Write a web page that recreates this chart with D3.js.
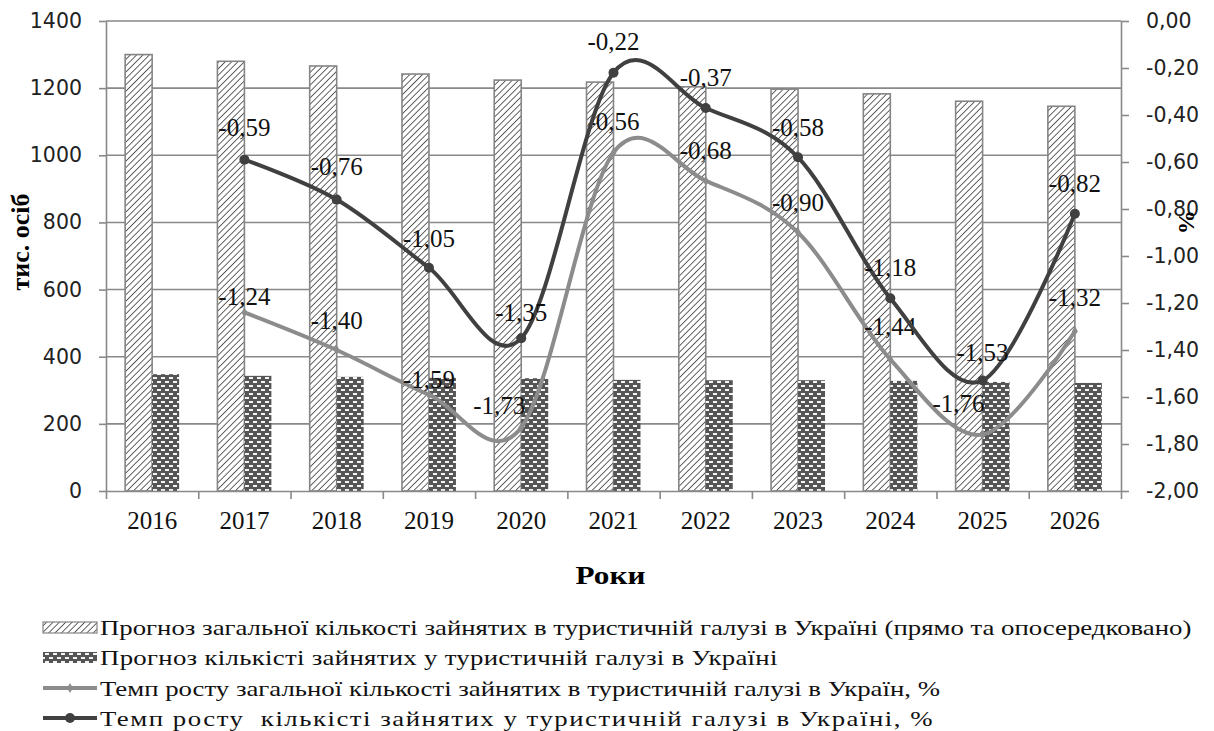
<!DOCTYPE html>
<html>
<head>
<meta charset="utf-8">
<script src="https://cdn.jsdelivr.net/npm/d3@7"></script>
<style>
  body { margin: 0; background: #fff; }
  svg { display: block; }
</style>
</head>
<body>
<div id="chart"></div>
<script>
// дані
const years = ["2016", "2017", "2018", "2019", "2020", "2021", "2022", "2023", "2024", "2025", "2026"];
const totalEmployed = [1300, 1280, 1266, 1242, 1224, 1218, 1204, 1197, 1183, 1161, 1146];
const directEmployed = [348, 343, 340, 337, 336, 331, 330, 330, 328, 325, 322];
const totalGrowth = [null, -1.24, -1.40, -1.59, -1.73, -0.56, -0.68, -0.90, -1.44, -1.76, -1.32];
const directGrowth = [null, -0.59, -0.76, -1.05, -1.35, -0.22, -0.37, -0.58, -1.18, -1.53, -0.82];
const leftTicks = [0, 200, 400, 600, 800, 1000, 1200, 1400];
const rightTicks = [0, -0.2, -0.4, -0.6, -0.8, -1.0, -1.2, -1.4, -1.6, -1.8, -2.0];
const legendLabels = [
    "Прогноз загальної кількості зайнятих в туристичній галузі в Україні (прямо та опосередковано)",
    "Прогноз кількісті зайнятих у туристичній галузі в Україні",
    "Темп росту загальної кількості зайнятих в туристичній галузі в Україн, %",
    "Темп росту  кількісті зайнятих у туристичній галузі в Україні, %"
];
// зсув підписів (стиль, у пікселях)
const totalLabelShift = [null, [0, -16], [0, -30], [0, -15], [-22, -22], [0, -31], [0, -31], [0, -30], [0, -33], [-24, -31], [0, -34]];
const directLabelShift = [null, [0, -32], [0, -33], [0, -30], [0, -26], [0, -31], [0, -31], [0, -30], [0, -31], [0, -28], [0, -30]];
const legendLetterSpacing = [0, 0.25, 0, 1.25];

const locale = d3.formatLocale({ decimal: ",", thousands: "", grouping: [3], currency: ["", ""], minus: "-" });
const fmt2 = locale.format(".2f");

const W = 1214, H = 731;
const mLeft = 106, mRight = 1121, mTop = 21, mBottom = 491;
const gridColor = "#898989";
const serif = "'Liberation Serif', 'Times New Roman', serif";
const sans = "'DejaVu Sans', sans-serif";

const svg = d3.select("#chart").append("svg")
    .attr("width", W).attr("height", H)
    .style("font-family", serif);

// візерунки
const defs = svg.append("defs");
const hatch = defs.append("pattern")
    .attr("id", "hatch").attr("patternUnits", "userSpaceOnUse")
    .attr("width", 4.5).attr("height", 4.5)
    .attr("patternTransform", "rotate(45)");
hatch.append("rect").attr("width", 4.5).attr("height", 4.5).attr("fill", "#fff");
hatch.append("line").attr("x1", 0).attr("y1", 0).attr("x2", 0).attr("y2", 4.5)
    .attr("stroke", "#3c3c3c").attr("stroke-width", 1.6);

const brick = defs.append("pattern")
    .attr("id", "brick").attr("patternUnits", "userSpaceOnUse")
    .attr("width", 8).attr("height", 8);
brick.append("rect").attr("width", 8).attr("height", 8).attr("fill", "#555555");
brick.append("rect").attr("x", 1).attr("y", 1).attr("width", 4).attr("height", 2).attr("fill", "#f4f4f4");
brick.append("rect").attr("x", 5).attr("y", 5).attr("width", 4).attr("height", 2).attr("fill", "#f4f4f4");
brick.append("rect").attr("x", -3).attr("y", 5).attr("width", 4).attr("height", 2).attr("fill", "#f4f4f4");

// шкали
const x = d3.scaleBand().domain(years).range([mLeft, mRight]).paddingInner(0.415).paddingOuter(0.2075);
const xCenter = d3.scaleBand().domain(years).range([mLeft, mRight]).padding(0);
const xSub = d3.scaleBand().domain(["total", "direct"]).range([0, x.bandwidth()]);
const xEdge = d3.scaleLinear().domain([0, years.length]).range([mLeft, mRight]);
const yL = d3.scaleLinear().domain([0, 1400]).range([mBottom, mTop]);
const yR = d3.scaleLinear().domain([-2, 0]).range([mBottom, mTop]);

// сітка
svg.append("g").selectAll("line")
    .data(leftTicks.slice(1))
    .join("line")
    .attr("x1", mLeft).attr("x2", mRight)
    .attr("y1", d => yL(d)).attr("y2", d => yL(d))
    .attr("stroke", gridColor).attr("stroke-width", 1.6);

// стовпці
const rows = years.map((yr, i) => ({ year: yr, total: totalEmployed[i], direct: directEmployed[i] }));
svg.append("g").selectAll("rect")
    .data(rows)
    .join("rect")
    .attr("x", d => x(d.year) + xSub("total"))
    .attr("y", d => yL(d.total))
    .attr("width", xSub.bandwidth())
    .attr("height", d => yL(0) - yL(d.total))
    .attr("fill", "url(#hatch)")
    .attr("stroke", "#858585").attr("stroke-width", 1.6);

svg.append("g").selectAll("rect")
    .data(rows)
    .join("rect")
    .attr("x", d => x(d.year) + xSub("direct"))
    .attr("y", d => yL(d.direct))
    .attr("width", xSub.bandwidth())
    .attr("height", d => yL(0) - yL(d.direct))
    .attr("fill", "url(#brick)");

// осі
const axisStyle = g => {
    g.select(".domain").attr("stroke", gridColor).attr("stroke-width", 1.6);
    g.selectAll(".tick line").attr("stroke", gridColor).attr("stroke-width", 1.6);
};

svg.append("g")
    .attr("transform", `translate(${mLeft},0)`)
    .call(d3.axisLeft(yL).tickValues(leftTicks).tickFormat(d3.format("d")).tickSize(7).tickPadding(17).tickSizeOuter(0))
    .call(axisStyle)
    .call(g => g.selectAll("text").style("font-family", sans).style("font-size", "20.5px").attr("fill", "#222"));

svg.append("g")
    .attr("transform", `translate(${mRight},0)`)
    .call(d3.axisRight(yR).tickValues(rightTicks).tickFormat(fmt2).tickSize(8).tickPadding(17).tickSizeOuter(0))
    .call(axisStyle)
    .call(g => g.selectAll("text").style("font-family", sans).style("font-size", "20.5px").attr("fill", "#222"));

svg.append("g")
    .attr("transform", `translate(0,${mBottom})`)
    .call(d3.axisBottom(xEdge).tickValues(d3.range(years.length + 1)).tickFormat("").tickSize(8).tickSizeOuter(0))
    .call(axisStyle);

svg.append("g")
    .attr("transform", `translate(0,${mBottom})`)
    .call(d3.axisBottom(xCenter).tickSize(0).tickPadding(20))
    .call(g => g.select(".domain").remove())
    .call(g => g.selectAll("text").style("font-family", serif).style("font-size", "25px").attr("fill", "#111"));

// назви осей
svg.append("text")
    .attr("transform", `translate(29,242) rotate(-90)`)
    .attr("text-anchor", "middle")
    .attr("font-size", "26px").attr("font-weight", "bold")
    .text("тис. осіб");

svg.append("text")
    .attr("transform", `translate(1179,222) rotate(90)`)
    .attr("text-anchor", "middle")
    .attr("font-size", "24px").attr("font-weight", "bold")
    .text("%");

svg.append("text")
    .attr("transform", `translate(${(mLeft + mRight) / 2 - 3},584) scale(1.2,1)`)
    .attr("text-anchor", "middle")
    .attr("font-size", "26px").attr("font-weight", "bold")
    .text("Роки");

// лінії
const line = d3.line()
    .defined(d => d.v !== null)
    .x(d => xCenter(d.year) + xCenter.bandwidth() / 2)
    .y(d => yR(d.v))
    .curve(d3.curveCardinal.tension(0));

const seriesLines = [
    { values: totalGrowth, color: "#8c8c8c", marker: "diamond", shift: totalLabelShift },
    { values: directGrowth, color: "#404040", marker: "circle", shift: directLabelShift }
];

seriesLines.forEach(s => {
    const pts = years.map((yr, i) => ({ year: yr, v: s.values[i], i: i })).filter(d => d.v !== null);
    svg.append("path")
        .datum(pts)
        .attr("d", line)
        .attr("fill", "none")
        .attr("stroke", s.color)
        .attr("stroke-width", 4);

    const cx = d => xCenter(d.year) + xCenter.bandwidth() / 2;
    if (s.marker === "circle") {
        svg.append("g").selectAll("circle")
            .data(pts).join("circle")
            .attr("cx", cx).attr("cy", d => yR(d.v))
            .attr("r", 5).attr("fill", s.color);
    } else {
        svg.append("g").selectAll("path")
            .data(pts).join("path")
            .attr("d", d3.symbol(d3.symbolDiamond, 30))
            .attr("transform", d => `translate(${cx(d)},${yR(d.v)})`)
            .attr("fill", s.color);
    }

    svg.append("g").selectAll("text")
        .data(pts).join("text")
        .attr("x", d => cx(d) + s.shift[d.i][0])
        .attr("y", d => yR(d.v) + s.shift[d.i][1])
        .attr("dy", "0.35em")
        .attr("text-anchor", "middle")
        .attr("font-size", "25px")
        .attr("fill", "#111")
        .text(d => fmt2(d.v));
});

// легенда
const legendY = [627, 657, 688, 718];
const lg = svg.append("g");
legendLabels.forEach((lab, i) => {
    const yy = legendY[i];
    if (i === 0) {
        lg.append("rect").attr("x", 43).attr("y", yy - 5).attr("width", 54).attr("height", 11)
            .attr("fill", "url(#hatch)").attr("stroke", "#858585").attr("stroke-width", 1.2);
    } else if (i === 1) {
        lg.append("rect").attr("x", 43).attr("y", yy - 5).attr("width", 54).attr("height", 11)
            .attr("fill", "url(#brick)");
    } else {
        const col = seriesLines[i - 2].color;
        lg.append("line").attr("x1", 43).attr("x2", 97).attr("y1", yy).attr("y2", yy)
            .attr("stroke", col).attr("stroke-width", 4);
        if (i === 2) {
            lg.append("path").attr("d", d3.symbol(d3.symbolDiamond, 30))
                .attr("transform", `translate(70,${yy})`).attr("fill", col);
        } else {
            lg.append("circle").attr("cx", 70).attr("cy", yy).attr("r", 5).attr("fill", col);
        }
    }
    lg.append("text")
        .attr("transform", `translate(100,${yy}) scale(1.217,1)`)
        .attr("dy", "0.35em")
        .style("white-space", "pre")
        .attr("letter-spacing", legendLetterSpacing[i])
        .attr("font-size", "22px").attr("fill", "#111")
        .text(lab);
});
</script>
</body>
</html>
